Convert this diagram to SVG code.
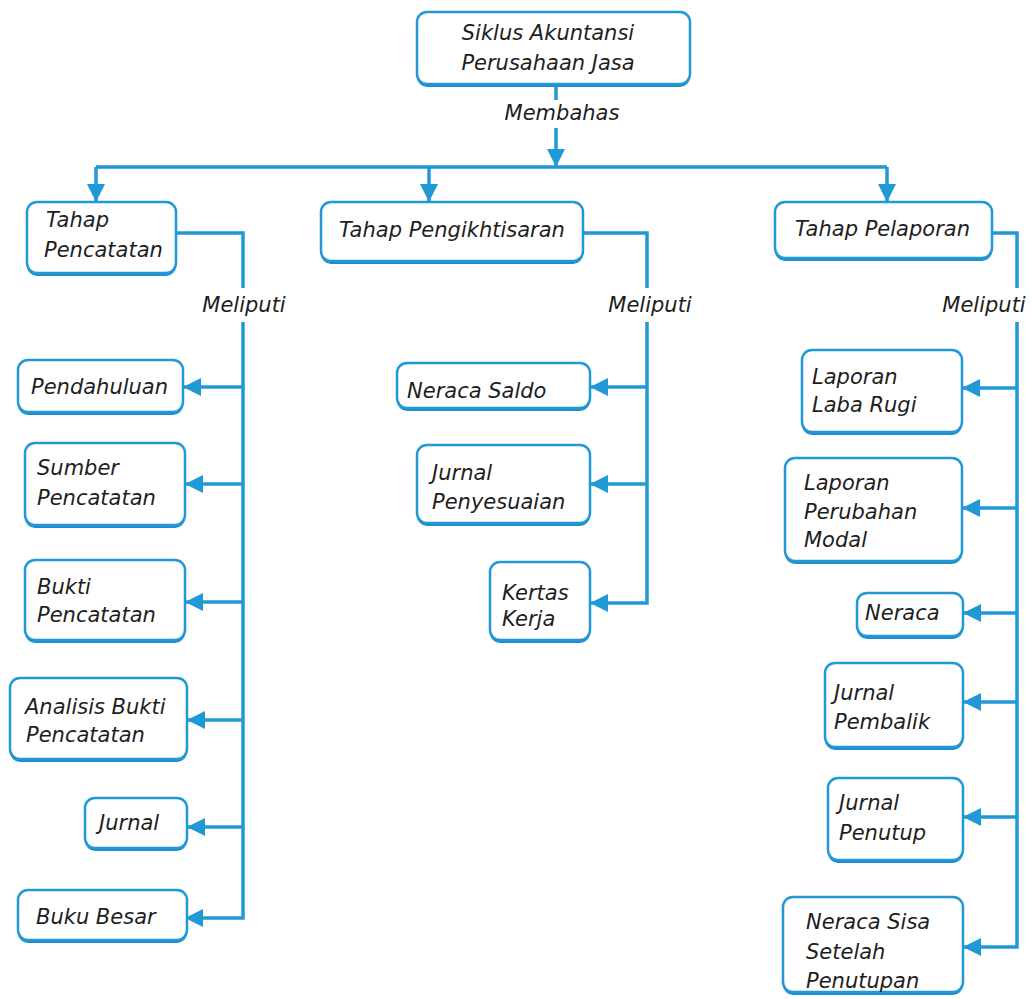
<svg xmlns="http://www.w3.org/2000/svg" width="1032" height="999" viewBox="0 0 1032 999">
<style>
.box{fill:#ffffff;stroke:#2199d6;stroke-width:2.5}
.sh{fill:#1e8fc9}
.t{font-family:"DejaVu Sans","Liberation Sans",sans-serif;font-style:italic;font-size:21px;fill:#1e1e1e}
.c{stroke:#2199d6;stroke-width:3.5;fill:none}
.m{text-anchor:middle}
</style>
<defs>
<marker id="ah" markerUnits="userSpaceOnUse" markerWidth="18" markerHeight="18" viewBox="0 0 18 18" refX="17" refY="9" orient="auto">
<path d="M0,0 L18,9 L0,18 z" fill="#2199d6"/>
</marker>
</defs>
<rect width="1032" height="999" fill="#ffffff"/>
<g id="connectors">
<path class="c" d="M556,85 V100"/>
<path class="c" d="M556,128 V166" marker-end="url(#ah)"/>
<path class="c" d="M96,167 H887"/>
<path class="c" d="M96,167 V201" marker-end="url(#ah)"/>
<path class="c" d="M429,167 V201" marker-end="url(#ah)"/>
<path class="c" d="M887,167 V201" marker-end="url(#ah)"/>
<path class="c" d="M176,233 H243 V288"/>
<path class="c" d="M243,322 V918 H186" marker-end="url(#ah)"/>
<path class="c" d="M243,387 H184" marker-end="url(#ah)"/>
<path class="c" d="M243,484 H186" marker-end="url(#ah)"/>
<path class="c" d="M243,602 H186" marker-end="url(#ah)"/>
<path class="c" d="M243,720 H188" marker-end="url(#ah)"/>
<path class="c" d="M243,827 H188" marker-end="url(#ah)"/>
<path class="c" d="M583,233 H647 V288"/>
<path class="c" d="M647,322 V603 H591" marker-end="url(#ah)"/>
<path class="c" d="M647,387 H591" marker-end="url(#ah)"/>
<path class="c" d="M647,484 H591" marker-end="url(#ah)"/>
<path class="c" d="M992,233 H1017 V288"/>
<path class="c" d="M1017,322 V947 H964" marker-end="url(#ah)"/>
<path class="c" d="M1017,388 H963" marker-end="url(#ah)"/>
<path class="c" d="M1017,508 H963" marker-end="url(#ah)"/>
<path class="c" d="M1017,613 H964" marker-end="url(#ah)"/>
<path class="c" d="M1017,702 H964" marker-end="url(#ah)"/>
<path class="c" d="M1017,817 H964" marker-end="url(#ah)"/>
<text class="t m" x="562" y="120">Membahas</text>
<text class="t m" x="244" y="312">Meliputi</text>
<text class="t m" x="650" y="312">Meliputi</text>
<text class="t m" x="984" y="312">Meliputi</text>
</g>
<g id="root">
<rect class="sh" x="417" y="15" width="273" height="72" rx="10"/>
<rect class="box" x="417" y="12" width="273" height="72" rx="10"/>
<text class="t m" x="548" y="40">Siklus Akuntansi</text>
<text class="t m" x="548" y="70">Perusahaan Jasa</text>
</g>
<g id="pencatatan">
<rect class="sh" x="27" y="205" width="149" height="71" rx="10"/>
<rect class="box" x="27" y="202" width="149" height="71" rx="10"/>
<text class="t" x="46" y="227">Tahap</text>
<text class="t" x="44" y="257">Pencatatan</text>
</g>
<g id="pengikhtisaran">
<rect class="sh" x="321" y="205" width="262" height="59" rx="10"/>
<rect class="box" x="321" y="202" width="262" height="59" rx="10"/>
<text class="t" x="339" y="237">Tahap Pengikhtisaran</text>
</g>
<g id="pelaporan">
<rect class="sh" x="775" y="205" width="217" height="56" rx="10"/>
<rect class="box" x="775" y="202" width="217" height="56" rx="10"/>
<text class="t" x="795" y="236">Tahap Pelaporan</text>
</g>
<g id="pendahuluan">
<rect class="sh" x="18" y="363" width="165" height="52" rx="10"/>
<rect class="box" x="18" y="360" width="165" height="52" rx="10"/>
<text class="t" x="31" y="394">Pendahuluan</text>
</g>
<g id="sumber">
<rect class="sh" x="25" y="446" width="160" height="82" rx="10"/>
<rect class="box" x="25" y="443" width="160" height="82" rx="10"/>
<text class="t" x="37" y="475">Sumber</text>
<text class="t" x="37" y="505">Pencatatan</text>
</g>
<g id="bukti">
<rect class="sh" x="25" y="563" width="160" height="80" rx="10"/>
<rect class="box" x="25" y="560" width="160" height="80" rx="10"/>
<text class="t" x="37" y="594">Bukti</text>
<text class="t" x="37" y="622">Pencatatan</text>
</g>
<g id="analisis">
<rect class="sh" x="10" y="681" width="177" height="81" rx="10"/>
<rect class="box" x="10" y="678" width="177" height="81" rx="10"/>
<text class="t" x="25" y="714">Analisis Bukti</text>
<text class="t" x="26" y="742">Pencatatan</text>
</g>
<g id="jurnal">
<rect class="sh" x="85" y="801" width="102" height="50" rx="10"/>
<rect class="box" x="85" y="798" width="102" height="50" rx="10"/>
<text class="t" x="99" y="830">Jurnal</text>
</g>
<g id="bukubesar">
<rect class="sh" x="18" y="893" width="169" height="50" rx="10"/>
<rect class="box" x="18" y="890" width="169" height="50" rx="10"/>
<text class="t" x="36" y="924">Buku Besar</text>
</g>
<g id="neracasaldo">
<rect class="sh" x="397" y="366" width="193" height="45" rx="10"/>
<rect class="box" x="397" y="363" width="193" height="45" rx="10"/>
<text class="t" x="407" y="398">Neraca Saldo</text>
</g>
<g id="jurnalpenyesuaian">
<rect class="sh" x="417" y="448" width="173" height="78" rx="10"/>
<rect class="box" x="417" y="445" width="173" height="78" rx="10"/>
<text class="t" x="432" y="480">Jurnal</text>
<text class="t" x="432" y="509">Penyesuaian</text>
</g>
<g id="kertaskerja">
<rect class="sh" x="490" y="565" width="100" height="78" rx="10"/>
<rect class="box" x="490" y="562" width="100" height="78" rx="10"/>
<text class="t" x="502" y="600">Kertas</text>
<text class="t" x="502" y="626">Kerja</text>
</g>
<g id="labarugi">
<rect class="sh" x="802" y="353" width="160" height="82" rx="10"/>
<rect class="box" x="802" y="350" width="160" height="82" rx="10"/>
<text class="t" x="812" y="384">Laporan</text>
<text class="t" x="812" y="412">Laba Rugi</text>
</g>
<g id="perubahanmodal">
<rect class="sh" x="785" y="461" width="177" height="103" rx="10"/>
<rect class="box" x="785" y="458" width="177" height="103" rx="10"/>
<text class="t" x="804" y="490">Laporan</text>
<text class="t" x="804" y="519">Perubahan</text>
<text class="t" x="804" y="547">Modal</text>
</g>
<g id="neraca">
<rect class="sh" x="857" y="596" width="106" height="43" rx="10"/>
<rect class="box" x="857" y="593" width="106" height="43" rx="10"/>
<text class="t" x="865" y="620">Neraca</text>
</g>
<g id="jurnalpembalik">
<rect class="sh" x="825" y="666" width="138" height="84" rx="10"/>
<rect class="box" x="825" y="663" width="138" height="84" rx="10"/>
<text class="t" x="834" y="700">Jurnal</text>
<text class="t" x="834" y="729">Pembalik</text>
</g>
<g id="jurnalpenutup">
<rect class="sh" x="828" y="781" width="135" height="82" rx="10"/>
<rect class="box" x="828" y="778" width="135" height="82" rx="10"/>
<text class="t" x="839" y="810">Jurnal</text>
<text class="t" x="839" y="840">Penutup</text>
</g>
<g id="neracasisa">
<rect class="sh" x="783" y="900" width="180" height="95" rx="10"/>
<rect class="box" x="783" y="897" width="180" height="95" rx="10"/>
<text class="t" x="806" y="929">Neraca Sisa</text>
<text class="t" x="806" y="959">Setelah</text>
<text class="t" x="806" y="988">Penutupan</text>
</g>
</svg>
